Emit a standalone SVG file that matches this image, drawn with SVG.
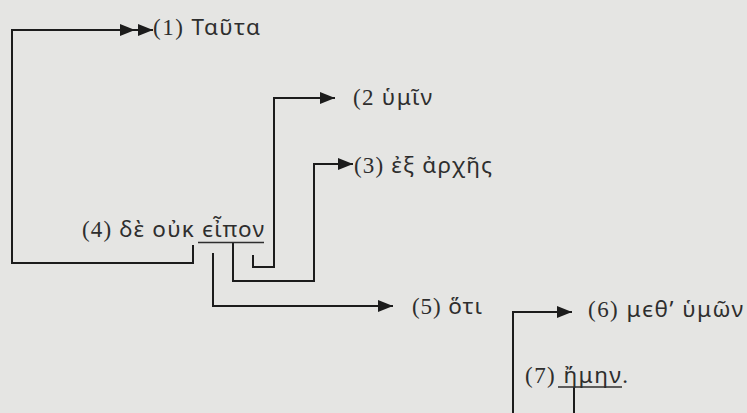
<svg xmlns="http://www.w3.org/2000/svg" width="747" height="413" viewBox="0 0 747 413">
<style>
.bg{fill:#e5e5e3}
.t{font-family:"Liberation Serif","DejaVu Serif",serif;font-size:23px;fill:#2e2e2e}
.g{font-family:"Noto Sans","DejaVu Sans",sans-serif;font-size:22.5px}
.c{fill:none;stroke:#1c1c1c;stroke-width:2}
.u{stroke:#2e2e2e;stroke-width:1.6}
</style>
<defs>
<marker id="ah" markerUnits="userSpaceOnUse" markerWidth="16" markerHeight="14" refX="15" refY="7" orient="auto">
<path d="M0,1 L15,7 L0,13 z" fill="#1c1c1c"/>
</marker>
</defs>
<rect class="bg" x="0" y="0" width="747" height="413"/>
<g id="connectors">
<path class="c" d="M193,245 V263 H12 V30 H135" marker-end="url(#ah)"/>
<path class="c" d="M135,30 H153" marker-end="url(#ah)"/>
<path class="c" d="M253,255 V267 H274 V98 H335" marker-end="url(#ah)"/>
<path class="c" d="M233,242 V281 H314 V164 H353" marker-end="url(#ah)"/>
<path class="c" d="M213,253 V306 H393" marker-end="url(#ah)"/>
<path class="c" d="M513,413 V312 H572" marker-end="url(#ah)"/>
<path class="c" d="M574,387 V413"/>
</g>
<g id="n1"><text class="t" x="153" y="35" textLength="107" lengthAdjust="spacing">(1) <tspan class="g">Ταῦτα</tspan></text></g>
<g id="n2"><text class="t" x="353" y="105" textLength="79" lengthAdjust="spacing">(2 <tspan class="g">ὑμῖν</tspan></text></g>
<g id="n3"><text class="t" x="354" y="173" textLength="138" lengthAdjust="spacing">(3) <tspan class="g">ἐξ ἀρχῆς</tspan></text></g>
<g id="n4"><text class="t" x="82" y="237" textLength="182" lengthAdjust="spacing">(4) <tspan class="g">δὲ οὐκ ϵἶπον</tspan></text>
<line class="u" x1="198" y1="242.5" x2="264" y2="242.5"/></g>
<g id="n5"><text class="t" x="412" y="314" textLength="70" lengthAdjust="spacing">(5) <tspan class="g">ὅτι</tspan></text></g>
<g id="n6"><text class="t" x="588" y="317" textLength="155" lengthAdjust="spacing">(6) <tspan class="g">μϵθ’ ὑμῶν</tspan></text></g>
<g id="n7"><text class="t" x="525" y="383" textLength="103" lengthAdjust="spacing">(7) <tspan class="g">ἤμην</tspan>.</text>
<line class="u" x1="558" y1="387" x2="622" y2="387"/></g>
</svg>
